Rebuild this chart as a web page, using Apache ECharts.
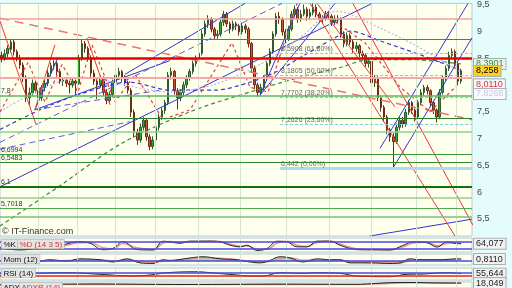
<!DOCTYPE html>
<html><head><meta charset="utf-8">
<script src="https://cdn.jsdelivr.net/npm/echarts@6/dist/echarts.min.js"></script>
<style>html,body{margin:0;padding:0;background:#E4FCFC}#c{width:512px;height:288px}</style>
</head><body><div id="c"></div>
<script>
// ---------- DATA ----------
// candles: [open, close, low, high]
const candles = [
[8.55,8.50,8.42,8.62],[8.50,8.58,8.45,8.66],[8.58,8.68,8.52,8.74],[8.66,8.80,8.60,8.86],[8.80,8.62,8.55,8.84],
[8.62,8.50,8.44,8.66],[8.50,8.37,8.30,8.56],[8.37,8.13,8.05,8.42],[8.13,7.76,7.68,8.18],[7.76,7.85,7.62,7.95],
[7.85,8.03,7.80,8.10],[8.03,7.90,7.84,8.08],[7.90,7.76,7.66,7.96],[7.76,7.95,7.70,8.00],[7.95,8.03,7.88,8.10],
[8.03,8.22,7.98,8.28],[8.22,8.36,8.16,8.42],[8.36,8.40,8.28,8.46],[8.40,8.25,8.18,8.44],[8.25,8.07,8.02,8.30],
[8.07,8.09,7.98,8.14],[8.09,8.03,7.96,8.12],[8.03,8.00,7.84,8.08],[8.00,8.07,7.95,8.12],[8.07,8.03,7.80,8.10],
[8.03,8.50,8.00,8.56],[8.50,8.77,8.45,8.84],[8.77,8.68,8.60,8.82],[8.68,8.50,8.44,8.72],[8.50,8.22,8.15,8.55],
[8.22,8.07,8.00,8.28],[8.07,8.00,7.74,8.12],[8.00,8.13,7.95,8.18],[8.13,7.86,7.80,8.16],[7.86,7.71,7.64,7.92],
[7.71,7.82,7.66,7.88],[7.82,8.04,7.78,8.10],[8.04,8.18,8.00,8.30],[8.18,8.25,8.10,8.32],[8.25,8.13,8.06,8.28],
[8.13,8.04,7.98,8.18],[8.04,7.90,7.84,8.08],[7.90,7.49,7.40,7.94],[7.49,7.12,7.02,7.54],[7.12,6.97,6.88,7.18],
[6.97,7.21,6.92,7.28],[7.21,7.34,7.15,7.40],[7.34,7.03,6.96,7.38],[7.03,6.85,6.78,7.08],[6.85,6.97,6.80,7.04],
[6.97,7.21,6.92,7.26],[7.21,7.40,7.15,7.46],[7.40,7.52,7.34,7.58],[7.52,7.67,7.46,7.72],[7.67,8.18,7.62,8.24],
[8.18,8.25,8.10,8.32],[8.25,7.89,7.82,8.28],[7.89,7.76,7.54,7.94],[7.76,7.86,7.70,7.92],[7.86,8.00,7.80,8.06],
[8.00,8.13,7.94,8.18],[8.13,8.25,8.08,8.30],[8.25,8.40,8.20,8.45],[8.40,8.50,8.34,8.55],[8.50,8.59,8.44,8.66],
[8.59,8.95,8.55,9.02],[8.95,9.14,8.90,9.20],[9.14,9.23,9.06,9.30],[9.23,9.04,8.98,9.26],[9.04,8.92,8.84,9.08],
[8.92,8.95,8.86,9.02],[8.95,9.17,8.90,9.22],[9.17,9.32,9.10,9.38],[9.32,9.14,9.08,9.36],[9.14,9.04,8.96,9.18],
[9.04,9.14,9.00,9.20],[9.14,9.10,9.02,9.18],[9.10,8.99,8.92,9.14],[8.99,9.10,8.94,9.16],[9.10,9.04,8.96,9.14],
[9.04,8.77,8.70,9.08],[8.77,8.31,8.24,8.80],[8.31,8.00,7.92,8.36],[8.00,7.86,7.78,8.04],[7.86,7.95,7.80,8.02],
[7.95,8.13,7.90,8.18],[8.13,8.40,8.08,8.45],[8.40,8.62,8.35,8.68],[8.62,8.95,8.58,9.00],[8.95,9.28,8.90,9.34],
[9.28,9.23,9.14,9.36],[9.23,8.99,8.92,9.26],[8.99,8.86,8.78,9.04],[8.86,9.04,8.82,9.10],[9.04,9.32,9.00,9.38],
[9.32,9.41,9.26,9.48],[9.41,9.23,9.16,9.45],[9.23,9.32,9.18,9.40],[9.32,9.41,9.28,9.50],[9.41,9.28,9.20,9.45],
[9.28,9.35,9.22,9.42],[9.35,9.45,9.30,9.52],[9.45,9.32,9.26,9.50],[9.32,9.24,9.18,9.36],[9.24,9.23,9.16,9.30],
[9.23,9.32,9.20,9.38],[9.32,9.28,9.22,9.36],[9.28,9.17,9.10,9.32],[9.17,9.24,9.12,9.30],[9.24,9.23,9.15,9.30],
[9.23,8.95,8.88,9.26],[8.95,8.77,8.70,9.00],[8.77,8.92,8.72,8.98],[8.92,8.80,8.74,8.96],[8.80,8.68,8.60,8.84],
[8.68,8.73,8.62,8.80],[8.73,8.59,8.52,8.76],[8.59,8.55,8.48,8.64],[8.55,8.40,8.34,8.58],[8.40,8.44,8.32,8.50],
[8.44,8.04,7.98,8.48],[8.04,8.13,7.96,8.18],[8.13,7.76,7.70,8.16],[7.76,7.58,7.50,7.80],[7.58,7.40,7.32,7.62],
[7.40,7.16,7.08,7.44],[7.16,7.03,6.94,7.20],[7.03,6.94,6.442,7.10],[6.94,7.21,6.90,7.28],[7.21,7.34,7.15,7.40],
[7.34,7.27,7.20,7.40],[7.27,7.49,7.22,7.55],[7.49,7.67,7.44,7.72],[7.67,7.53,7.46,7.70],[7.53,7.40,7.32,7.56],
[7.40,7.67,7.36,7.72],[7.67,7.86,7.62,7.92],[7.86,7.95,7.80,8.00],[7.95,7.89,7.82,8.00],[7.89,7.67,7.60,7.92],
[7.67,7.53,7.46,7.70],[7.53,7.40,7.30,7.56],[7.40,7.86,7.36,7.92],[7.86,8.13,7.82,8.18],[8.13,8.31,8.08,8.36],
[8.31,8.55,8.26,8.62],[8.55,8.62,8.48,8.68],[8.62,8.40,8.34,8.66],[8.40,8.07,8.00,8.44],[8.07,8.258,8.02,8.30]
];
const slotCount = 153;
const priceTicks = [5.5, 6, 6.5, 7, 7.5, 8.5, 9, 9.5];
const monthIdx = [11.8, 24.5, 36.8, 49.7, 63.7, 77.3, 92.2, 106.1, 119.8, 134.3, 147.3];

// horizontal support / resistance levels
const hLevels = [9.226, 8.858, 8.50, 8.141, 7.80, 7.369, 7.13, 6.6994, 6.5483, 6.1, 5.90, 5.7018, 5.54];
const hLabels = ['', '', '', '', '7,8', '', '', '6,6994', '6,5483', '6,1', '', '5,7018', ''];

// fibonacci retracement
const fibLevels = [8.5908, 8.1805, 7.7702, 7.2626, 6.442];
const fibLabels = ['8,5908 (61,80%)', '8,1805 (50,00%)', '7,7702 (38,20%)', '7,2626 (23,60%)', '6,442 (0,00%)'];
const fibStart = 90.3, fibEnd = 152.5;

// trend lines [x1, y1, x2, y2] in (candle index, price)
const blueLines = [
 [-0.5, 6.10, 120.1, 9.52], [10.8, 7.535, 18.3, 8.509], [10.8, 7.535, 54.6, 8.454],
 [40.0, 8.196, 78.9, 9.52], [83.8, 7.81, 96.7, 9.52], [83.8, 7.81, 108.1, 9.52],
 [122.7, 6.818, 151.2, 9.52], [126.9, 6.45, 152.5, 8.877], [119.4, 5.18, 152.5, 5.494]
];
const blueDashLines = [[-0.5, 6.928, 90.9, 9.52], [-0.5, 6.80, 41.6, 7.314], [10.8, 7.535, 51.4, 7.90]];
const redLines = [
 [-0.5, 9.189, 11.2, 7.259], [10.8, 7.535, 17.3, 8.748], [27.7, 8.877, 35.2, 7.627],
 [100.0, 9.52, 147.0, 5.18], [113.9, 9.52, 152.8, 5.384], [102.3, 9.52, 127.5, 7.59]
];
const redDashLines = [[-0.5, 9.244, 152.5, 7.351]];

// overlays
const greenMA = [[-0.5,5.366],[18.95,6.119],[38.4,6.891],[61.1,7.498],[82.5,7.902],[96.7,8.141],[109.7,8.325],[119.4,8.472],[132.4,8.472],[149,8.3901]];
const blueMA = [[-0.5,7.167],[12.5,7.535],[25.4,7.829],[41.6,8.049],[54.6,7.902],[69.2,7.902],[80.5,8.049],[88.6,8.233],[98.4,8.564],[108.1,8.877],[113.0,9.005],[122.7,8.821],[135.6,8.564],[149,8.27]];
const lavMA = [[-0.5,7.498],[25.4,8.141],[54.6,7.866],[69.2,8.013],[83.8,8.380],[96.7,8.877],[108.4,9.373],[122.7,9.06],[135.6,8.693],[149,8.233]];
const redZig = [[-0.5,7.498],[8.6,8.417],[14.1,7.682],[19.6,8.38],[24.8,7.866],[29.3,8.748],[36.8,7.682],[43.3,8.196],[52.3,7.351],[61.1,7.535],[74.7,8.785],[80.5,7.957],[86.4,7.866],[95.8,9.52],[null,null],[106.5,9.244],[117.8,8.785],[129.2,7.957],[138.9,7.498],[148,8.011]];

// right-hand value boxes
const boxVals = [8.3901, 8.258, 8.0110, 7.8268];
const boxTexts = ['8,3901', '8,258', '8,0110', '7,8268'];

// indicators
const stochK = [[-0.5,30],[6,12],[12.5,30],[19,50],[25.4,82],[28.7,68],[32.9,14],[36.1,25],[39.4,82],[43.9,15],[49.1,12],[52.3,85],[54.6,80],[57.8,68],[61.1,86],[67.6,86],[70.8,80],[74.1,52],[77.3,38],[79.6,52],[82.8,8],[86.1,25],[89.3,85],[92.5,80],[95.8,38],[99.0,38],[102.3,86],[106.5,85],[109.7,52],[113.0,25],[116.2,14],[120.4,14],[125.9,12],[130.1,50],[133.4,80],[137.9,72],[141.2,36],[144.4,80],[147.6,65],[149,64.077]];
const stochD = [[-0.5,35],[6,18],[12.5,25],[19,42],[25.4,72],[28.7,74],[32.9,30],[36.1,22],[39.4,65],[43.9,30],[49.1,15],[52.3,70],[54.6,82],[57.8,74],[61.1,80],[67.6,85],[70.8,82],[74.1,62],[77.3,44],[79.6,46],[82.8,20],[86.1,18],[89.3,70],[92.5,84],[95.8,52],[99.0,40],[102.3,75],[106.5,86],[109.7,62],[113.0,35],[116.2,18],[120.4,14],[125.9,13],[130.1,38],[133.4,70],[137.9,76],[141.2,48],[144.4,66],[147.6,72],[149,66]];
const mom = [[11.5,-0.48],[15.7,0.48],[21.2,-0.08],[25.4,0.88],[31.9,0.48],[36.1,-0.48],[40.7,0.88],[44.9,-0.88],[49.1,-1.12],[52.3,0.48],[54.6,0.2],[61.1,1.28],[65.3,1.8],[70.8,0.88],[76.3,0.48],[80.5,-0.48],[83.8,-0.88],[87.0,0.2],[90.3,1.8],[93.5,1.28],[97.7,-0.48],[102.3,0.88],[106.5,0.48],[109.7,0.48],[113.0,-0.88],[119.4,-0.88],[125.9,-1.12],[129.2,-0.88],[132.4,0.88],[135.6,0.48],[142.1,0.48],[147.6,0.88],[149,0.811]];
const momSig = [[11.5,-0.2],[15.7,0.1],[21.2,0.2],[25.4,0.5],[31.9,0.6],[36.1,0.1],[40.7,0.4],[44.9,0.0],[49.1,-0.8],[52.3,-0.2],[54.6,0.1],[61.1,0.8],[65.3,1.4],[70.8,1.2],[76.3,0.6],[80.5,0.0],[83.8,-0.6],[87.0,-0.3],[90.3,1.0],[93.5,1.4],[97.7,0.3],[102.3,0.4],[106.5,0.6],[109.7,0.5],[113.0,-0.3],[119.4,-0.8],[125.9,-1.0],[129.2,-1.0],[132.4,0.1],[135.6,0.6],[142.1,0.5],[147.6,0.7],[149,0.75]];
const rsi = [[-0.5,55],[10.2,59],[21.2,66],[31.9,49],[42.6,30],[48.1,41],[53.6,66],[63.4,76],[67.6,66],[76.3,41],[80.5,30],[84.8,30],[90.3,66],[97.7,59],[102.3,66],[109.7,59],[115.2,30],[125.9,23],[131.4,49],[136.6,52],[144.4,66],[149,55.644]];
const adx = [[-0.5,8],[30,12],[60,9],[90,11],[115,10],[120,14],[125,20],[130,22],[135,21.5],[140,19.5],[145,18.6],[149,18.049]];
const adxr = [[-0.5,6],[30,10],[60,8],[90,10],[115,9],[120,12],[127,17],[133,20.5],[140,19.5],[149,18]];
const indBoxVals = [64.077, 0.811, 55.644, 18.049];
const indBoxTexts = ['64,077', '0,8110', '55,644', '18,049'];

// ---------- STYLES / BUILD ----------
const F = "'Liberation Sans', Arial, sans-serif";
const hStyles = [
 {color:'#F4A0A0', width:1.5},{color:'#E83838', width:1},{color:'#E80000', width:2.5},{color:'#F4A8A8', width:2},
 {color:'#58B858', width:1.5},{color:'#2E7D2E', width:1},{color:'#8CD08C', width:1.5},{color:'#3A9A3A', width:1},
 {color:'#2E8B2E', width:1},{color:'#107010', width:2},{color:'#90D090', width:1.5},{color:'#50A850', width:1},{color:'#78C078', width:1.5}
];
const boxStyles = [
 {color:'#3A8A3A', backgroundColor:'#EEF2EE'},{color:'#000', backgroundColor:'#FFD21E'},
 {color:'#E03030', backgroundColor:'#F6F8F8'},{color:'#C4C4EE', backgroundColor:'#FAFCFC'}
];
const RANGE = {min:-0.5, max:slotCount - 0.5};
const slots = Array.from({length: slotCount}, (_, i) => String(i));

function segSeries(list, color, width, type, z) {
  return list.map(s => ({type:'line', xAxisIndex:1, yAxisIndex:0, data:[[s[0], s[1]], [s[2], s[3]]],
    symbol:'none', silent:true, z:z, lineStyle:{color, width, type}}));
}
function vLines(xi, yi) {
  return {type:'line', xAxisIndex:xi, yAxisIndex:yi, data:[], silent:true, z:1,
    markLine:{symbol:['none','none'], silent:true, label:{show:false},
      lineStyle:{color:'#D6E4D2', width:1, type:'solid'}, data: monthIdx.map(v => ({xAxis:v}))}};
}
function boxLine(v, txt, st) {
  return {yAxis:v, lineStyle:{color:'rgba(0,0,0,0)', width:0.1}, label:Object.assign({show:true, position:'end', distance:2,
    formatter:txt, fontSize:9, fontFamily:F, padding:[1,2,0,2], borderColor:'#A8B0B0', borderWidth:1}, st)};
}

const series = [];
for (let g = 0; g < 5; g++) series.push(vLines(g + 1, g));
series.push({type:'line', xAxisIndex:1, yAxisIndex:0, data:[], silent:true, z:1,
  markLine:{symbol:['none','none'], silent:true,
    data: hLevels.map((v, i) => ({yAxis:v, lineStyle:Object.assign({type:'solid'}, hStyles[i]),
      label: hLabels[i] ? {show:true, position:'insideStartTop', formatter:hLabels[i], fontSize:7, fontFamily:F, color:'#333', distance:1, padding:0} : {show:false}}))}});
series.push({type:'line', xAxisIndex:1, yAxisIndex:0, data:[], silent:true, z:1,
  markLine:{symbol:['none','none'], silent:true,
    data: fibLevels.map((v, i) => [{coord:[fibStart, v], lineStyle: i === 4 ? {color:'#A8DCF0', width:3, type:'solid'} : {color:'#7EC8EE', width:1.2, type:[3,2]},
      label:{show:true, position:'insideStartTop', formatter:fibLabels[i], fontSize:7, fontFamily:F, color:'#666', distance:1}}, {coord:[fibEnd, v]}])}});
series.push({type:'candlestick', xAxisIndex:0, yAxisIndex:0, data:candles, barWidth:2, z:3,
  itemStyle:{color:'#30A830', color0:'#D2542C', borderColor:'#2F5A2F', borderColor0:'#6B2C18', borderWidth:1}});
series.push(...segSeries(blueLines, '#3434D4', 1, 'solid', 4));
series.push(...segSeries(blueDashLines, '#5A5AE0', 1, [6,4], 4));
series.push(...segSeries(redLines, '#F03434', 1, 'solid', 4));
series.push(...segSeries(redDashLines, '#F07070', 1.5, [9,6], 4));
const ov = (data, color, type, width) => ({type:'line', xAxisIndex:1, yAxisIndex:0, data, symbol:'none', smooth:0.3, silent:true, z:4, connectNulls:false, lineStyle:{color, width, type}});
series.push(ov(greenMA, '#3A8A3A', [4,3], 1.2));
series.push(ov(blueMA, '#3A3AD0', [4,3], 1.2));
series.push(ov(lavMA, '#B4B4F2', [2,2], 1.2));
series.push(Object.assign(ov(redZig, '#E04040', [3,3], 1.2), {smooth:false}));
series.push({type:'line', xAxisIndex:1, yAxisIndex:0, data:[], silent:true, z:6,
  markLine:{symbol:['none','none'], silent:true, data: boxVals.map((v, i) => boxLine(v, boxTexts[i], boxStyles[i]))}});

// indicator panels
const indBox = {color:'#222', backgroundColor:'#F2F2F2'};
const il = (xi, yi, data, color, width, extra) => Object.assign({type:'line', xAxisIndex:xi, yAxisIndex:yi, data, symbol:'none', smooth:0.4, silent:true, z:4, lineStyle:{color, width}}, extra || {});
const boxSeries = (xi, yi, k) => ({type:'line', xAxisIndex:xi, yAxisIndex:yi, data:[], silent:true, z:6,
  markLine:{symbol:['none','none'], silent:true, data:[boxLine(indBoxVals[k], indBoxTexts[k], indBox)]}});
series.push({type:'line', xAxisIndex:2, yAxisIndex:1, data:[], silent:true, z:2,
  markLine:{symbol:['none','none'], silent:true, label:{show:false}, lineStyle:{color:'#4848E0', width:1.5, type:'solid'}, data:[{yAxis:80},{yAxis:20}]}});
series.push(il(2, 1, stochD, '#F09090', 1.5));
series.push(il(2, 1, stochK, '#222', 1));
series.push(boxSeries(2, 1, 0));
series.push({type:'line', xAxisIndex:3, yAxisIndex:2, data:[], silent:true, z:2,
  markLine:{symbol:['none','none'], silent:true, label:{show:false}, lineStyle:{color:'#4848E0', width:1.5, type:'solid'}, data:[{yAxis:0}]}});
series.push(il(3, 2, mom.map(p => [p[0], Math.max(p[1], 0)]), '#A8D8A0', 0, {areaStyle:{color:'#A8D8A0', opacity:1}, z:3}));
series.push(il(3, 2, mom.map(p => [p[0], Math.min(p[1], 0)]), '#F0A8A8', 0, {areaStyle:{color:'#F0A8A8', opacity:1}, z:3}));
series.push(il(3, 2, momSig, '#F09090', 1.2));
series.push(il(3, 2, mom, '#222', 1));
series.push(boxSeries(3, 2, 1));
series.push({type:'line', xAxisIndex:4, yAxisIndex:3, data:[], silent:true, z:2,
  markLine:{symbol:['none','none'], silent:true, label:{show:false},
    data:[{yAxis:70, lineStyle:{color:'#4848E0', width:1.5, type:'solid'}},{yAxis:30, lineStyle:{color:'#E82020', width:1.5, type:'solid'}}]}});
series.push(il(4, 3, rsi, '#222', 1));
series.push(boxSeries(4, 3, 2));
series.push(il(5, 4, adxr, '#F09090', 1.5));
series.push(il(5, 4, adx, '#222', 1));
series.push(boxSeries(5, 4, 3));

const gridBase = {left:0, right:40, show:true, backgroundColor:'#FFFFEE', borderColor:'#BCCAD2', borderWidth:1};
const tag = (x, y, text, color) => ({type:'text', left:x, top:y, z:100, silent:true,
  style:{text, font:'8px ' + F, fill:color, backgroundColor:'#E4E4E4', borderColor:'#A8A8A8', borderWidth:0.5, padding:[1,2,0,2]}});

const option = {
  animation:false,
  backgroundColor:'#E4FCFC',
  grid:[
    Object.assign({top:0, height:236}, gridBase),
    Object.assign({top:238, height:14}, gridBase),
    Object.assign({top:254, height:11}, gridBase),
    Object.assign({top:268, height:12}, gridBase),
    Object.assign({top:282, height:20}, gridBase)
  ],
  xAxis:[
    {type:'category', gridIndex:0, data:slots, show:false, boundaryGap:true},
    Object.assign({type:'value', gridIndex:0, show:false}, RANGE),
    Object.assign({type:'value', gridIndex:1, show:false}, RANGE),
    Object.assign({type:'value', gridIndex:2, show:false}, RANGE),
    Object.assign({type:'value', gridIndex:3, show:false}, RANGE),
    Object.assign({type:'value', gridIndex:4, show:false}, RANGE)
  ],
  yAxis:[
    {type:'value', gridIndex:0, position:'right', min:5.18, max:9.52, axisLine:{show:false}, axisTick:{show:false}, splitLine:{show:false},
      axisLabel:{customValues:priceTicks, formatter:v => String(v).replace('.', ','), color:'#444', fontSize:9, fontFamily:F, margin:5}},
    {type:'value', gridIndex:1, min:-5, max:112, show:false},
    {type:'value', gridIndex:2, min:-1.8, max:3.0, show:false},
    {type:'value', gridIndex:3, min:-13, max:117, show:false},
    {type:'value', gridIndex:4, min:-14.6, max:25.4, show:false}
  ],
  graphic:[
    {type:'text', left:2, top:227, z:100, silent:true, style:{text:'© IT-Finance.com', font:'9px ' + F, fill:'#333'}},
    tag(1, 239, '%K', '#111'), tag(17, 239, '%D (14 3 5)', '#E03030'),
    tag(1, 254, 'Mom (12)', '#111'),
    tag(1, 268, 'RSI (14)', '#111'),
    tag(1, 282, 'ADX', '#111'), tag(19, 282, 'ADXR (14)', '#E03030')
  ],
  series
};
const chart = echarts.init(document.getElementById('c'), null, {width:512, height:288});
chart.setOption(option);
</script></body></html>
